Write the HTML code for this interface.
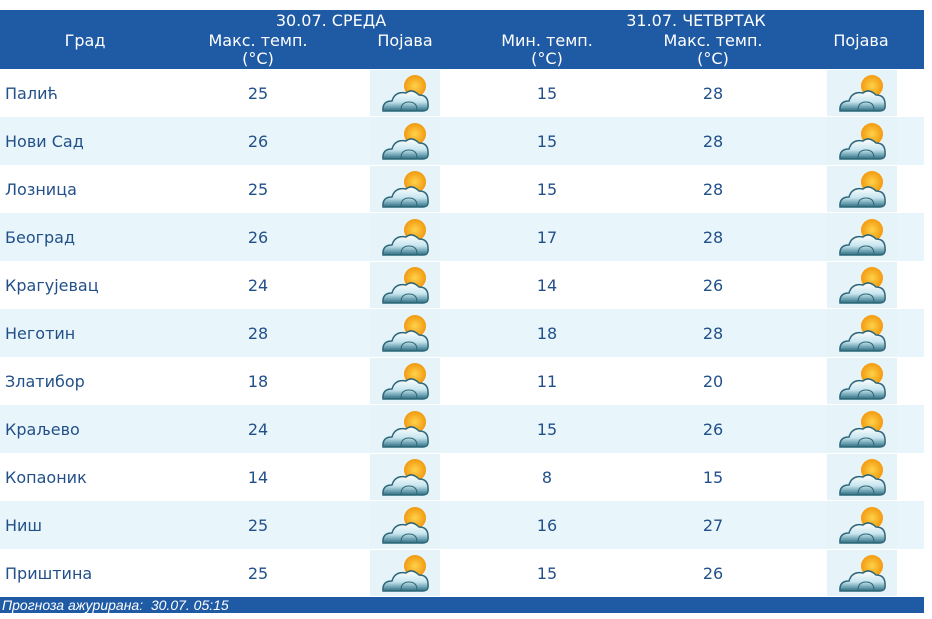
<!DOCTYPE html>
<html><head><meta charset="utf-8"><style>
body{margin:0;width:932px;height:619px;background:#fff;font-family:"DejaVu Sans","Liberation Sans",sans-serif;position:relative;overflow:hidden}
.hd{position:absolute;left:0;top:10px;width:924px;height:59px;background:#1f5aa5;color:#fff;font-size:16px}
.hd div{position:absolute;text-align:center;line-height:18px;transform:translateX(-50%);white-space:nowrap}
.row{position:absolute;left:0;width:924px;height:48px;color:#22508a;font-size:16px}
.row .t{position:absolute;top:16px;line-height:18px}
.c{transform:translateX(-50%)}
.row .ic{position:absolute;top:1px;width:70px;height:46px;background:#e6f4fa}
.ic svg{position:absolute;left:9px;top:1px}
.ft{position:absolute;left:0;top:597px;width:924px;height:16px;background:#1f5aa5;color:#fff;font-size:14px;font-style:italic;line-height:16px;padding-left:2px;box-sizing:border-box;font-family:"Liberation Sans",sans-serif}
</style></head><body>
<div class="hd">
<div style="left:85px;top:22px">Град</div>
<div style="left:331px;top:2px">30.07. СРЕДА</div>
<div style="left:258px;top:22px">Макс. темп.</div>
<div style="left:258px;top:40px">(°C)</div>
<div style="left:405px;top:22px">Појава</div>
<div style="left:696px;top:2px">31.07. ЧЕТВРТАК</div>
<div style="left:547px;top:22px">Мин. темп.</div>
<div style="left:547px;top:40px">(°C)</div>
<div style="left:713px;top:22px">Макс. темп.</div>
<div style="left:713px;top:40px">(°C)</div>
<div style="left:861px;top:22px">Појава</div>
</div>
<svg width="0" height="0" style="position:absolute"><defs>
<radialGradient id="s" cx="50%" cy="50%" r="50%"><stop offset="0" stop-color="#ffd24a"/><stop offset="1" stop-color="#f29a10"/></radialGradient>
<linearGradient id="cl" x1="0" y1="0" x2="0" y2="1"><stop offset="0" stop-color="#ffffff"/><stop offset=".55" stop-color="#c6e4ee"/><stop offset="1" stop-color="#2a6f82"/></linearGradient>
<g id="w"><circle cx="36" cy="15" r="11" fill="url(#s)"/>
<path d="M4 40 Q3 30 13 30 Q16 20 27 22 Q33 17 40 24 Q49 24 49 33 Q50 40 44 40 Z" fill="url(#cl)" stroke="#2d6677" stroke-width="1.5"/>
<path d="M22 39 Q22 31 30 31 Q38 31 38 39" fill="none" stroke="#2d6677" stroke-width="1"/></g>
</defs></svg>
<div id="rows"></div>
<div class="ft">Прогноза ажурирана:&nbsp; 30.07. 05:15</div>
<script>
var d=[["Палић",25,15,28],["Нови Сад",26,15,28],["Лозница",25,15,28],["Београд",26,17,28],["Крагујевац",24,14,26],["Неготин",28,18,28],["Златибор",18,11,20],["Краљево",24,15,26],["Копаоник",14,8,15],["Ниш",25,16,27],["Приштина",25,15,26]];
var h="";d.forEach(function(r,i){var y=69+i*48;
h+='<div class="row" style="top:'+y+'px;background:'+(i%2?'#e8f6fb':'#fff')+'">'+
'<div class="t" style="left:5px">'+r[0]+'</div><div class="t c" style="left:258px">'+r[1]+'</div>'+
'<div class="ic" style="left:370px"><svg width="52" height="44"><use href="#w"/></svg></div>'+
'<div class="t c" style="left:547px">'+r[2]+'</div><div class="t c" style="left:713px">'+r[3]+'</div>'+
'<div class="ic" style="left:827px"><svg width="52" height="44"><use href="#w"/></svg></div></div>';});
document.getElementById("rows").innerHTML=h;
</script>
</body></html>
